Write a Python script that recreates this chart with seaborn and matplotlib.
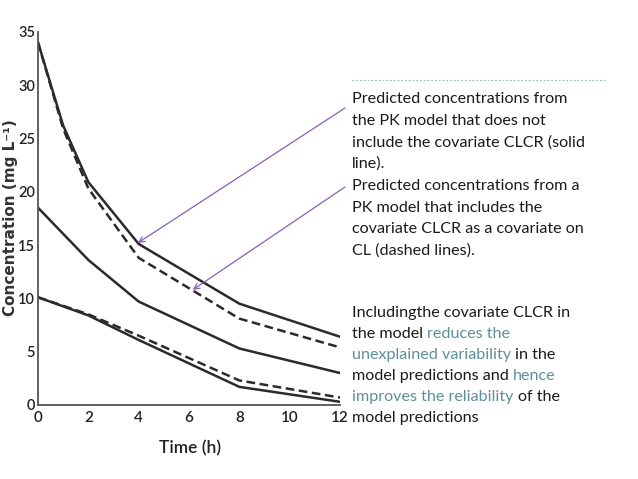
import numpy as np
import pandas as pd
import matplotlib
matplotlib.use("Agg")
import matplotlib.pyplot as plt
import seaborn as sns

# curve data
time_top = [0, 1, 2, 4, 8, 12]
time = [0, 2, 4, 8, 12]
top_solid = [34.0, 26.2, 20.9, 15.1, 9.5, 6.4]
top_dashed = [34.0, 25.9, 20.3, 13.8, 8.1, 5.4]
mid_solid = [18.5, 13.6, 9.7, 5.3, 3.0]
low_solid = [10.1, 8.4, 6.1, 1.7, 0.3]
low_dashed = [10.1, 8.5, 6.5, 2.3, 0.7]

x_ticks = [0, 2, 4, 6, 8, 10, 12]
y_ticks = [0, 5, 10, 15, 20, 25, 30, 35]

block1 = [
    [("Predicted concentrations from", "k")],
    [("the PK model that does not", "k")],
    [("include the covariate CLCR (solid", "k")],
    [("line).", "k")],
    [("Predicted concentrations from a", "k")],
    [("PK model that includes the", "k")],
    [("covariate CLCR as a covariate on", "k")],
    [("CL (dashed lines).", "k")],
]
block2 = [
    [("Includingthe covariate CLCR in", "k")],
    [("the model", "k"), ("reduces the", "h")],
    [("unexplained variability", "h"), ("in the", "k")],
    [("model predictions and", "k"), ("hence", "h")],
    [("improves the reliability", "h"), ("of the", "k")],
    [("model predictions", "k")],
]

sns.set_style("white")
plt.rcParams["font.family"] = ["Lato", "DejaVu Sans"]

W, H = 638, 479
fig = plt.figure(figsize=(W / 100, H / 100), dpi=100)
ax = fig.add_axes([38 / W, 1 - 405 / H, (340 - 38) / W, (405 - 31.7) / H])

line_col = "#2b2b2b"
sns.lineplot(x=time_top, y=top_solid, ax=ax, color=line_col, lw=1.8)
sns.lineplot(x=time_top, y=top_dashed, ax=ax, color=line_col, lw=1.8, linestyle=(0, (3.5, 1.8)))
sns.lineplot(x=time, y=mid_solid, ax=ax, color=line_col, lw=1.8)
sns.lineplot(x=time, y=low_solid, ax=ax, color=line_col, lw=1.8)
sns.lineplot(x=time, y=low_dashed, ax=ax, color=line_col, lw=1.8, linestyle=(0, (3.5, 1.8)))

ax.set_xlim(0, 12)
ax.set_ylim(0, 35)
ax.set_xticks(x_ticks)
ax.set_yticks(y_ticks)
ax.set_xticklabels([str(t) for t in x_ticks], fontsize=11, fontweight="semibold", color="#222222")
ax.set_yticklabels([str(t) for t in y_ticks], fontsize=10.5, fontweight="semibold", color="#222222")
ax.tick_params(direction="in", length=4, width=1, color="#444444", pad=2)
ax.tick_params(axis="x", pad=4)
for s in ["top", "right"]:
    ax.spines[s].set_visible(False)
for s in ["left", "bottom"]:
    ax.spines[s].set_color("#555555")
    ax.spines[s].set_linewidth(1.3)
ax.set_xlabel("")
ax.set_ylabel("")
fig.text(190 / W, 1 - 448 / H, "Time (h)", fontsize=12.5, fontweight="semibold",
         color="#222222", ha="center", va="center")
fig.text(10.5 / W, 1 - 218 / H, "Concentration (mg L\u207b\u00b9)", family="DejaVu Sans",
         fontweight="bold", fontsize=11, color="#333333", rotation=90,
         ha="center", va="center")

# arrows from the text to the curves
arrow_col = "#8a5fb5"
ax.annotate("", xy=(3.97, 15.2), xytext=(345, H - 108), textcoords="figure pixels",
            arrowprops=dict(arrowstyle="->", color=arrow_col, lw=0.9, shrinkA=0, shrinkB=0))
ax.annotate("", xy=(6.15, 10.8), xytext=(345, H - 187), textcoords="figure pixels",
            arrowprops=dict(arrowstyle="->", color=arrow_col, lw=0.9, shrinkA=0, shrinkB=0))

# dotted rule above the text
fig.add_artist(plt.Line2D([352 / W, 605 / W], [1 - 80 / H, 1 - 80 / H], color="#9fbccb",
                          lw=0.9, linestyle=(0, (1.5, 1.5))))

colors = {"k": "#1a1a1a", "h": "#5e8f99"}
fs = 11.6
renderer = fig.canvas.get_renderer()
probe = fig.text(0, 0, "a a", fontsize=fs)
w1 = probe.get_window_extent(renderer).width
probe.set_text("aa")
space_w = w1 - probe.get_window_extent(renderer).width
probe.remove()


def draw_block(lines, x0, y0, step):
    for i, segs in enumerate(lines):
        x = x0
        y = H - (y0 + i * step)
        for txt, c in segs:
            t = fig.text(x / W, y / H, txt, fontsize=fs, color=colors[c], va="baseline", ha="left")
            x += t.get_window_extent(renderer).width + space_w


draw_block(block1, 352, 103, 21.7)
draw_block(block2, 352, 317, 21.0)

fig.savefig("out.png", dpi=100)
